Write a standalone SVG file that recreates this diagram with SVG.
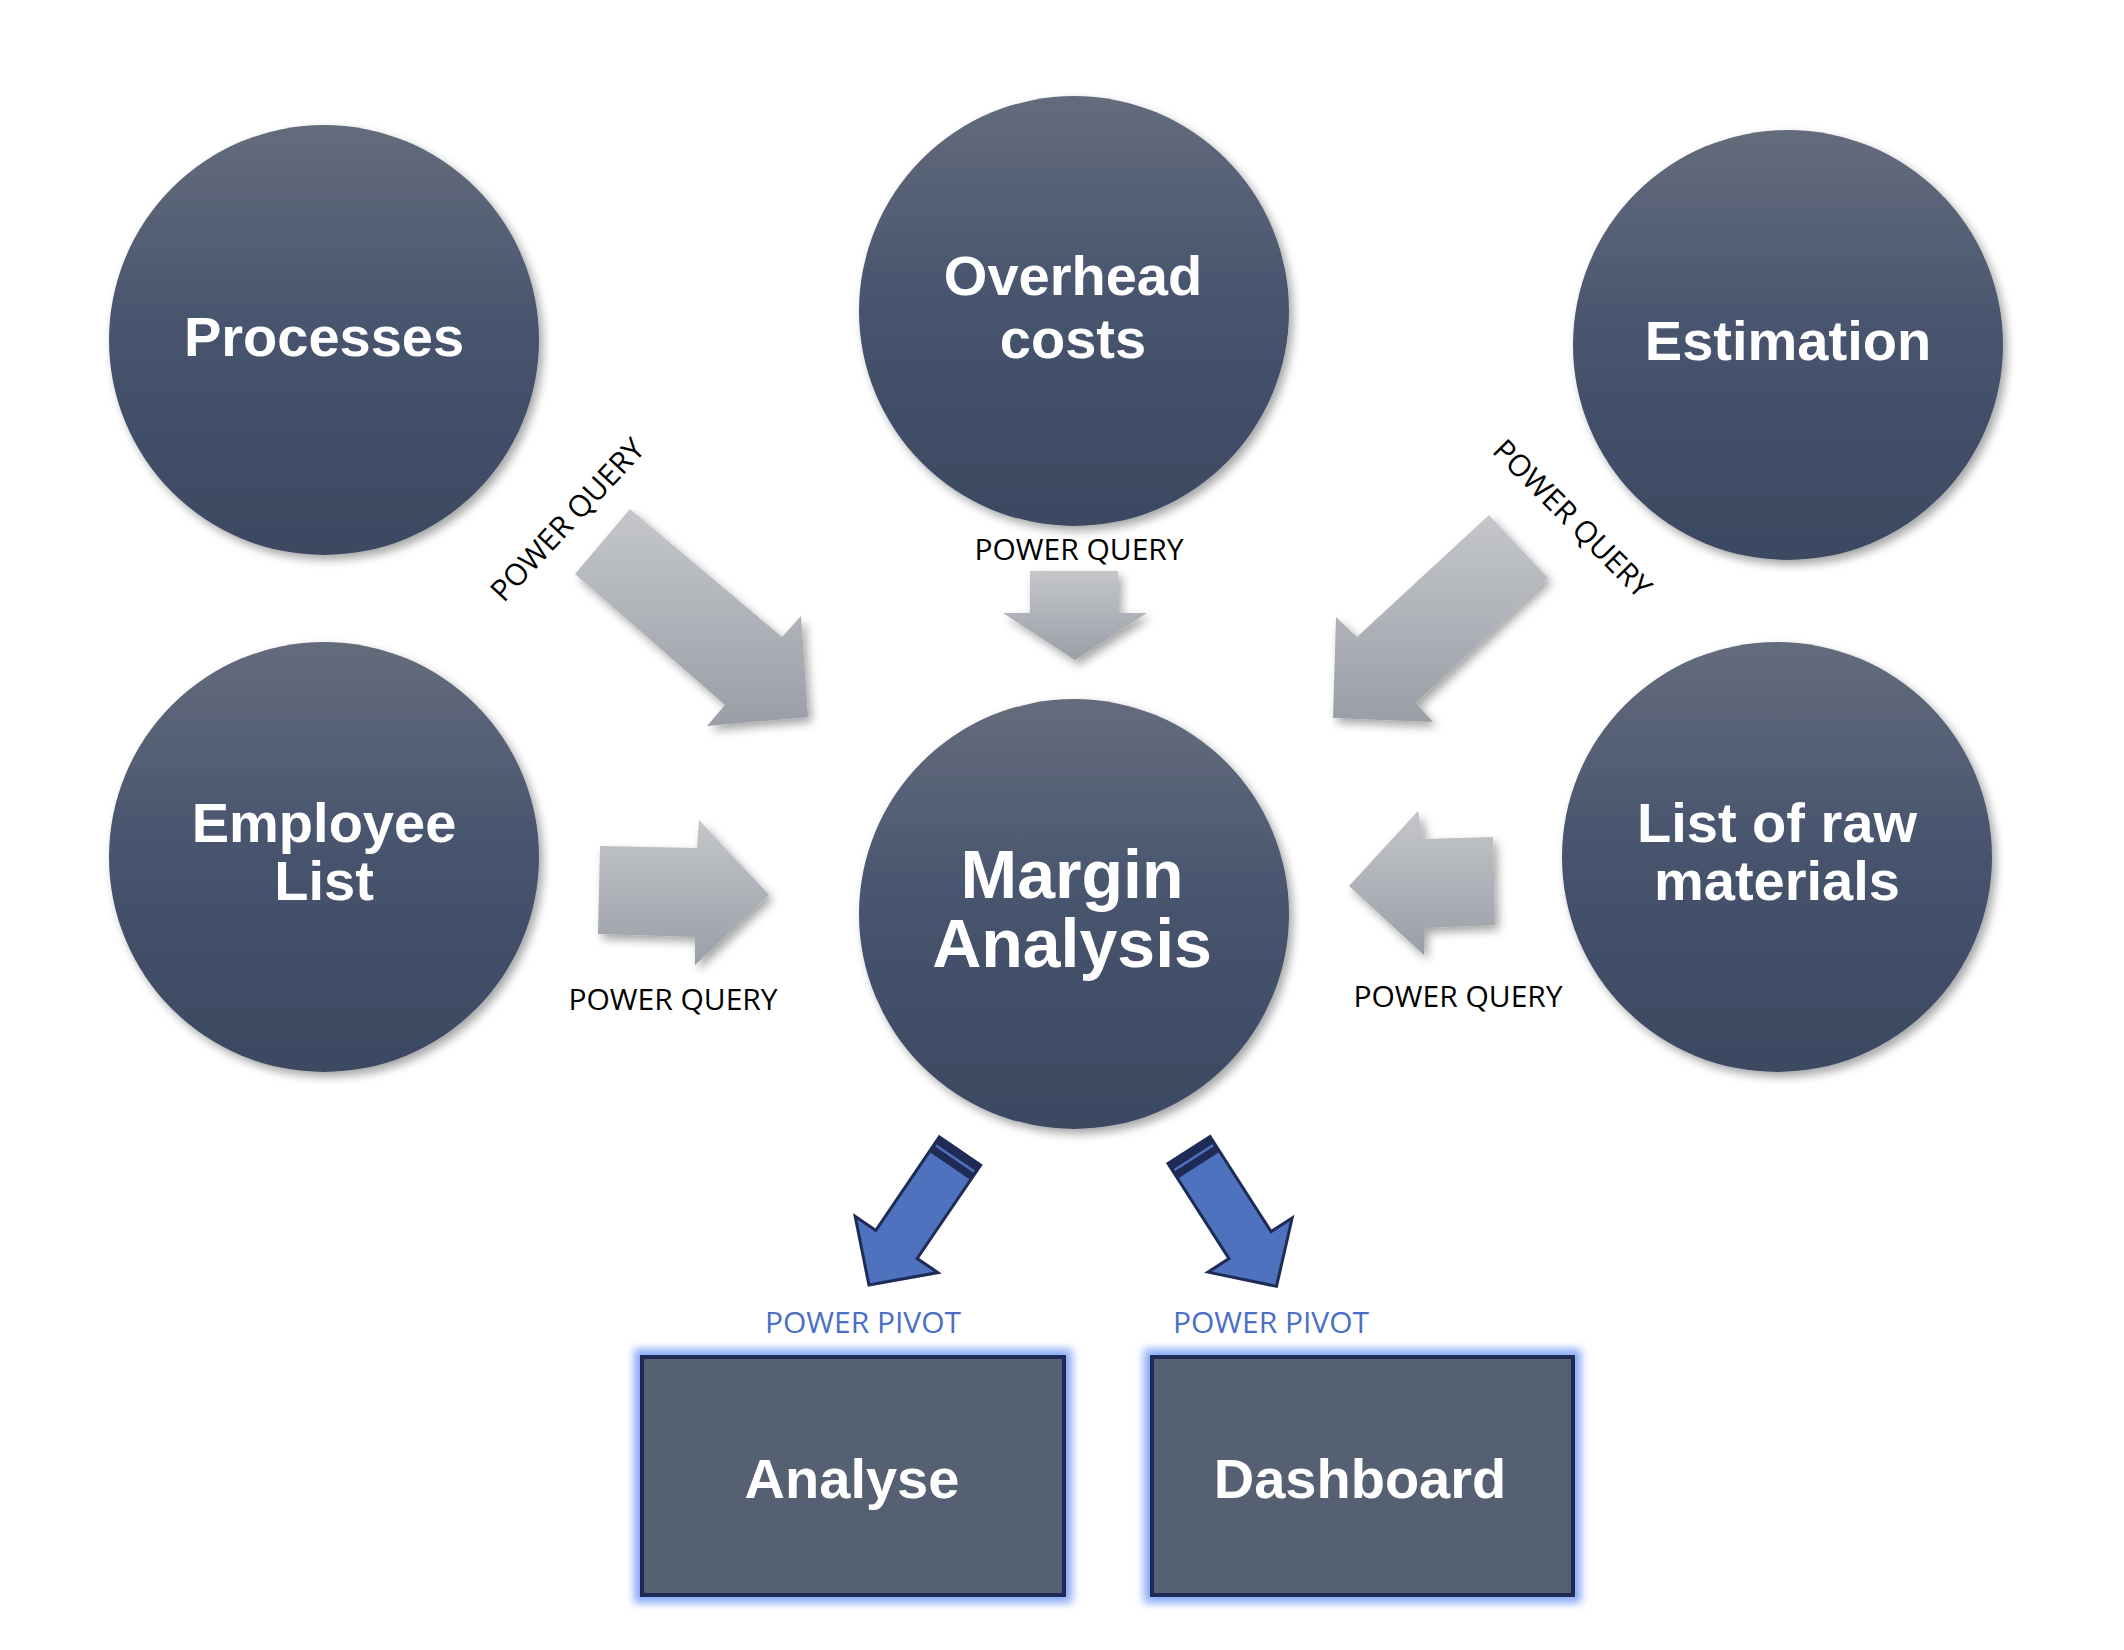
<svg xmlns="http://www.w3.org/2000/svg" width="2124" height="1650" viewBox="0 0 2124 1650">
<defs>
<linearGradient id="gCircle" x1="0" y1="0" x2="0" y2="1">
<stop offset="0" stop-color="#646c7c"/>
<stop offset="0.5" stop-color="#46536d"/>
<stop offset="1" stop-color="#3c4961"/>
</linearGradient>
<linearGradient id="gGray" x1="0" y1="0" x2="0" y2="1">
<stop offset="0" stop-color="#c4c6ca"/>
<stop offset="1" stop-color="#9a9ea6"/>
</linearGradient>
<filter id="sh" x="-20%" y="-20%" width="150%" height="150%">
<feDropShadow dx="4" dy="5" stdDeviation="5" flood-color="#000" flood-opacity="0.35"/>
</filter>
<filter id="glow" x="-15%" y="-15%" width="130%" height="130%">
<feMorphology in="SourceAlpha" operator="dilate" radius="6" result="d"/>
<feGaussianBlur in="d" stdDeviation="4" result="b"/>
<feFlood flood-color="#86a8f5" flood-opacity="1"/>
<feComposite in2="b" operator="in" result="g"/>
<feMerge><feMergeNode in="g"/><feMergeNode in="SourceGraphic"/></feMerge>
</filter>
<path id="blueArrow" d="M0,-25 L113,-25 L113,-50 L162,0 L113,50 L113,25 L0,25 Z"/>
</defs>
<style>
.circle{fill:url(#gCircle);filter:url(#sh);}
.ctext{font-family:"Liberation Sans",Arial,sans-serif;font-weight:bold;font-size:56px;fill:#ffffff;text-anchor:middle;}
.big{font-size:68px;}
.garrow{fill:url(#gGray);filter:url(#sh);}
.barrow{fill:#4f72be;stroke:#1e2b55;stroke-width:3;stroke-linejoin:miter;}
.band{fill:#1e2b55;}
.stripe{stroke:#4f72be;stroke-width:2.5;}
.pq{font-family:"Open Sans","Noto Sans",sans-serif;font-size:30px;fill:#000000;text-anchor:middle;}
.pp{font-family:"Open Sans","Noto Sans",sans-serif;font-size:30px;fill:#4a6fc4;text-anchor:middle;}
.box{fill:#556072;stroke:#1e2b55;stroke-width:4;filter:url(#glow);}
</style>
<rect width="2124" height="1650" fill="#ffffff"/>

<g id="connectors">
<g id="pq-processes">
<polygon class="garrow" points="630,509 782,637 801,616 808,717 707,726 725,705 575,574"/>
<text class="pq" transform="translate(575,527) rotate(-47)">POWER QUERY</text>
</g>
<g id="pq-overhead">
<polygon class="garrow" points="1030,571 1118,571 1118,613 1147,613 1075,660 1003,613 1030,613"/>
<text class="pq" x="1079" y="560">POWER QUERY</text>
</g>
<g id="pq-estimation">
<polygon class="garrow" points="1489,515 1357,637 1336,617 1333,718 1433,722 1416,703 1548,578"/>
<text class="pq" transform="translate(1565,526) rotate(45)">POWER QUERY</text>
</g>
<g id="pq-employee">
<polygon class="garrow" points="600,846 697,848 699,820 769,895 695,965 695,937 598,934"/>
<text class="pq" x="673" y="1010">POWER QUERY</text>
</g>
<g id="pq-raw">
<polygon class="garrow" points="1349,886 1418,811 1424,839 1493,837 1495,925 1424,928 1424,955"/>
<text class="pq" x="1458" y="1007">POWER QUERY</text>
</g>
<g id="pp-analyse" transform="translate(960,1151) rotate(124.2)">
<use href="#blueArrow" class="barrow"/>
<rect class="band" x="0" y="-25" width="18" height="50"/>
<line class="stripe" x1="9" y1="-23" x2="9" y2="23"/>
</g>
<g id="pp-dashboard" transform="translate(1189,1150) rotate(57.3)">
<use href="#blueArrow" class="barrow"/>
<rect class="band" x="0" y="-25" width="18" height="50"/>
<line class="stripe" x1="9" y1="-23" x2="9" y2="23"/>
</g>
<text class="pp" x="863" y="1333">POWER PIVOT</text>
<text class="pp" x="1271" y="1333">POWER PIVOT</text>
</g>

<g id="processes">
<circle class="circle" cx="324" cy="340" r="215"/>
<text class="ctext" x="324" y="356">Processes</text>
</g>
<g id="overhead-costs">
<circle class="circle" cx="1074" cy="311" r="215"/>
<text class="ctext" x="1073" y="295">Overhead</text>
<text class="ctext" x="1073" y="358">costs</text>
</g>
<g id="estimation">
<circle class="circle" cx="1788" cy="345" r="215"/>
<text class="ctext" x="1788" y="360">Estimation</text>
</g>
<g id="employee-list">
<circle class="circle" cx="324" cy="857" r="215"/>
<text class="ctext" x="324" y="842">Employee</text>
<text class="ctext" x="324" y="900">List</text>
</g>
<g id="margin-analysis">
<circle class="circle" cx="1074" cy="914" r="215"/>
<text class="ctext big" x="1072" y="898">Margin</text>
<text class="ctext big" x="1072" y="967">Analysis</text>
</g>
<g id="raw-materials">
<circle class="circle" cx="1777" cy="857" r="215"/>
<text class="ctext" x="1777" y="842">List of raw</text>
<text class="ctext" x="1777" y="900">materials</text>
</g>
<g id="analyse">
<rect class="box" x="642" y="1357" width="422" height="238"/>
<text class="ctext" x="852" y="1498">Analyse</text>
</g>
<g id="dashboard">
<rect class="box" x="1152" y="1357" width="421" height="238"/>
<text class="ctext" x="1360" y="1498">Dashboard</text>
</g>
</svg>
